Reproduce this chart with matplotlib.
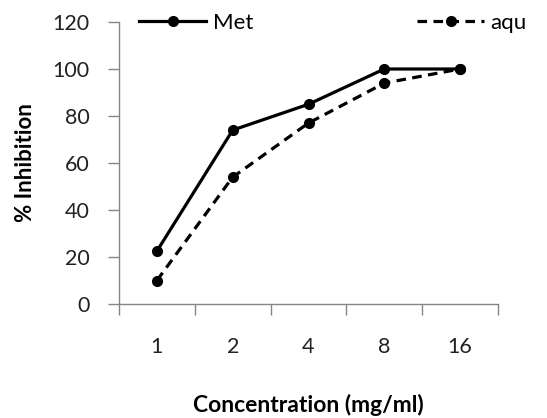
import matplotlib
matplotlib.use("Agg")
import matplotlib.pyplot as plt
import numpy as np

categories = ["1", "2", "4", "8", "16"]
met = [22.5, 74, 85, 100, 100]
aqu = [10, 54, 77, 94, 100]
yticks = [0, 20, 40, 60, 80, 100, 120]

plt.rcParams['font.family'] = ['Lato', 'DejaVu Sans']

fig = plt.figure(figsize=(5.47, 4.18), dpi=100)
ax = fig.add_axes([119/547, 1-304/418, (498-119)/547, (304-22)/418])

x = np.arange(len(categories))
ax.plot(x, met, color='black', lw=2.3, marker='o', ms=7, label='Met')
ax.plot(x, aqu, color='black', lw=2.3, marker='o', ms=7, ls=(0, (3, 2)), label='aqu')

ax.set_xlim(-0.5, len(categories) - 0.5)
ax.set_ylim(0, 120)
ax.set_yticks(yticks)
ax.set_yticklabels([str(v) for v in yticks])
ax.set_xticks(np.arange(len(categories) + 1) - 0.5)
ax.set_xticklabels([])
ax.set_xticks(x, minor=True)
ax.set_xticklabels(categories, minor=True)
ax.tick_params(axis='x', which='major', length=8, width=1, color='#868686', direction='out')
ax.tick_params(axis='x', which='minor', length=0, pad=24, labelsize=15.5, labelcolor='#222222')
ax.tick_params(axis='y', length=8, width=1, color='#868686', direction='out', pad=13, labelsize=15.5, labelcolor='#222222')

for s in ['top', 'right']:
    ax.spines[s].set_visible(False)
for s in ['left', 'bottom']:
    ax.spines[s].set_color('#868686')
    ax.spines[s].set_linewidth(1)

ax.set_ylabel('% Inhibition', fontsize=16, fontweight='bold', labelpad=12)
ax.set_xlabel('Concentration (mg/ml)', fontsize=16.5, fontweight='bold', labelpad=26)

leg = ax.legend(loc='upper left', bbox_to_anchor=(0.03, 1.065), ncol=2, frameon=False,
                fontsize=16, handlelength=3.0, handletextpad=0.3, columnspacing=7.4,
                borderaxespad=0)

fig.savefig('out.png', dpi=100)
